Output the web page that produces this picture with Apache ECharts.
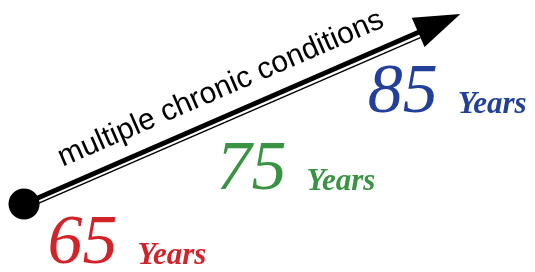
<!DOCTYPE html>
<html>
<head>
<meta charset="utf-8">
<script src="https://cdn.jsdelivr.net/npm/echarts@6/dist/echarts.min.js"></script>
<style>
  html, body { margin: 0; padding: 0; background: #fff; }
  #main { width: 535px; height: 272px; }
</style>
</head>
<body>
<div id="main"></div>
<script>
// ages shown along the arrow
var ages = [65, 75, 85];
var ageColors = ['#d2232a', '#3a9343', '#22409a'];
var unitText = 'Years';
var arrowText = 'multiple chronic conditions';
// arrow ends in the same age scale (start dot, arrow head)
var arrowStart = [63.29, 73.05];
var arrowEnd = [89.22, 97.64];
var railStart = [63.42, 72.42];
var railEnd = [88.04, 95.69];
// small label nudges in pixels (layout only)
var labelNudge = [[-4, 16], [5, 16], [-4, 12]];

var myChart = echarts.init(document.getElementById('main'));

var points = ages.map(function (a, i) {
    return {
        value: [a, a],
        label: {
            offset: labelNudge[i],
            formatter: '{n|' + a + '}{y|' + unitText + '}',
            rich: {
                n: { color: ageColors[i] },
                y: { color: ageColors[i] }
            }
        }
    };
});

var option = {
    animation: false,
    grid: { left: 0, right: 0, top: 0, bottom: 0 },
    xAxis: { type: 'value', min: 61.79, max: 95.2, show: false },
    yAxis: { type: 'value', min: 63.8, max: 100.8, show: false },
    series: [{
        type: 'scatter',
        symbolSize: 0,
        itemStyle: { color: '#fff', opacity: 1 },
        data: points,
        label: {
            show: true,
            position: [0, 0],
            align: 'left',
            verticalAlign: 'bottom',
            rich: {
                n: {
                    fontFamily: 'Liberation Serif',
                    fontStyle: 'italic',
                    fontSize: 70,
                    lineHeight: 70,
                    verticalAlign: 'bottom'
                },
                y: {
                    fontFamily: 'Liberation Serif',
                    fontStyle: 'italic',
                    fontWeight: 'bold',
                    fontSize: 31,
                    lineHeight: 31,
                    padding: [0, 0, 8, 20],
                    verticalAlign: 'bottom'
                }
            }
        },
        markLine: {
            silent: true,
            animation: false,
            data: [
                [
                    { coord: arrowStart, symbol: 'circle', symbolSize: 31,
                      lineStyle: { width: 5, color: '#000', type: 'solid' },
                      label: {
                          show: true,
                          formatter: arrowText,
                          position: 'insideMiddleTop',
                          distance: 12,
                          color: '#000',
                          fontFamily: 'Liberation Sans',
                          fontSize: 30
                      } },
                    { coord: arrowEnd, symbol: 'triangle', symbolSize: [32, 46] }
                ],
                [
                    { coord: railStart, symbol: 'none',
                      lineStyle: { width: 1.5, color: '#000', type: 'solid' },
                      label: { show: false } },
                    { coord: railEnd, symbol: 'none' }
                ]
            ],
            itemStyle: { color: '#000' },
            lineStyle: { color: '#000', type: 'solid' }
        }
    }]
};

myChart.setOption(option);
</script>
</body>
</html>
